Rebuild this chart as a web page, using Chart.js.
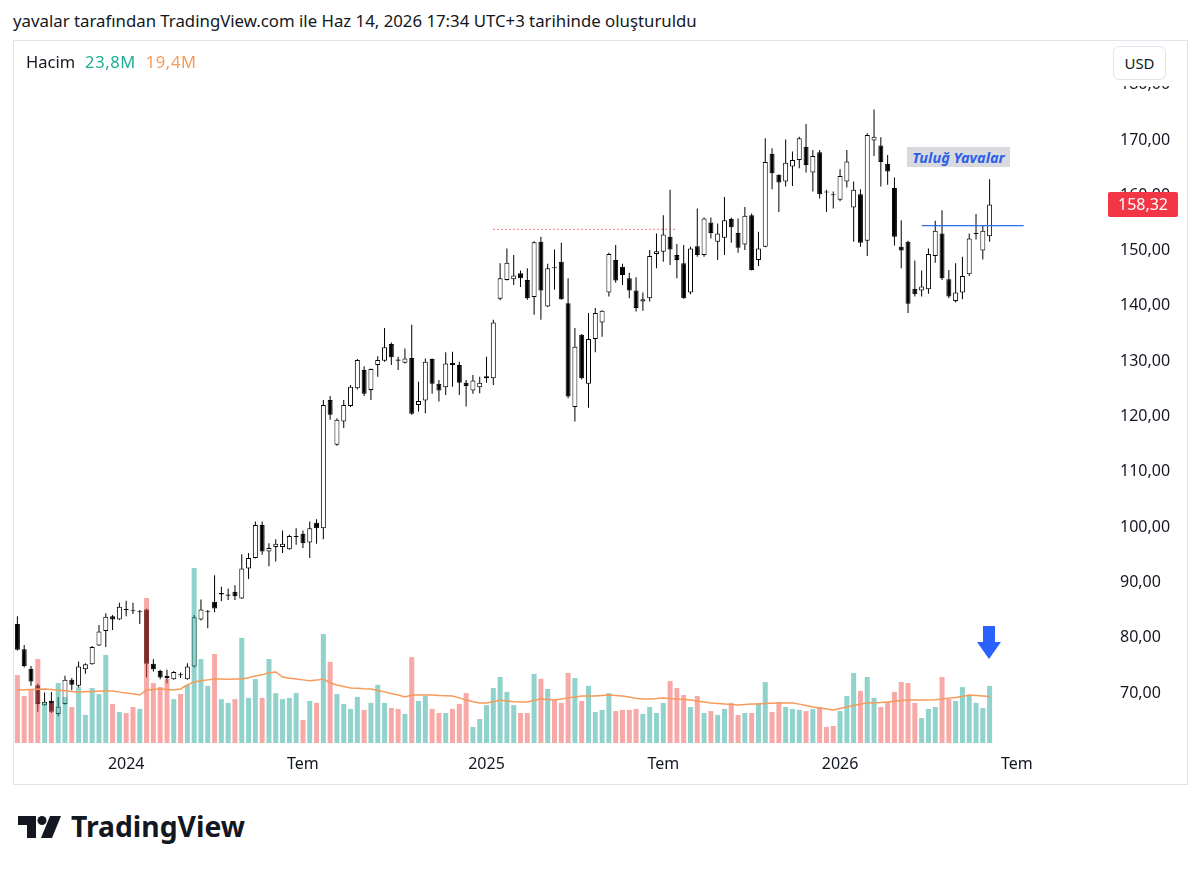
<!DOCTYPE html>
<html>
<head>
<meta charset="utf-8">
<script src="https://cdn.jsdelivr.net/npm/chart.js@4.4.1/dist/chart.umd.min.js"></script>
<style>
  body { margin: 0; width: 1200px; height: 871px; background: #fff; position: relative; overflow: hidden;
         font-family: "Noto Sans", sans-serif; color: #131722; }
  #title { position: absolute; left: 13px; top: 9px; font-size: 16.8px; white-space: nowrap; }
  #frame { position: absolute; left: 13px; top: 40px; width: 1173px; height: 743px; border: 1px solid #e0e3eb; }
  #c { position: absolute; left: 14px; top: 41px; }
  #legend { position: absolute; left: 26px; top: 50px; font-size: 16.5px; white-space: nowrap; }
  #legend .up { color: #22ab94; margin-left: 10px; letter-spacing: 0.6px; }
  #legend .ma { color: #f79a5a; margin-left: 10px; letter-spacing: 0.6px; }
  #mask { position: absolute; left: 1097px; top: 41px; width: 89px; height: 45px; background: #fff; }
  #usd { position: absolute; left: 1113px; top: 46px; width: 53px; height: 34px; border: 1px solid #e0e3eb;
         border-radius: 6px; box-sizing: border-box; font-size: 15px; line-height: 32px; text-align: center; background: #fff; }
  #note { position: absolute; left: 907px; top: 147px; width: 103px; height: 20px; background: #d9dadd;
          color: #2f5fe8; font-size: 14.5px; font-weight: bold; font-style: italic; line-height: 20px; text-align: center; }
  #arrow { position: absolute; left: 970px; top: 622px; }
  #logo { position: absolute; left: 0; top: 800px; }
</style>
</head>
<body>
<div id="title">yavalar tarafından TradingView.com ile Haz 14, 2026 17:34 UTC+3 tarihinde oluşturuldu</div>
<div id="frame"></div>
<canvas id="c" width="1172" height="742"></canvas>
<div id="legend">Hacim<span class="up">23,8M</span><span class="ma">19,4M</span></div>
<div id="mask"></div>
<div id="usd">USD</div>
<div id="note">Tuluğ Yavalar</div>
<svg id="arrow" width="40" height="42"><polygon points="13,4 25,4 25,20 31,20 19,37 7,20 13,20" fill="#2962ff"/></svg>
<svg id="logo" width="300" height="60">
  <path d="M18 16 H36 V38 H27 V25 H18 Z" fill="#131722"/>
  <circle cx="42" cy="20.5" r="4.5" fill="#131722"/>
  <path d="M50 16 H61 L52 38 H41 Z" fill="#131722"/>
  <text x="71" y="37" font-family="Noto Sans" font-weight="bold" font-size="28.3" fill="#131722">TradingView</text>
</svg>
<script>
// weekly candles, first week starts 2023-09-11
const startWeek = '2023-09-11';
const weekCount = 159; // includes empty future weeks on the right

const opens = [82.5,77.9,74.4,71.4,67.8,68.6,66.2,68.0,72.4,71.3,74.3,75.2,78.6,81.2,83.9,83.3,85.2,84.9,84.6,85.1,
  75.3,74.0,73.1,72.5,73.3,72.5,74.8,83.3,84.6,86.5,87.8,87.6,88.3,87.1,92.5,94.4,100.4,95.6,96.4,96.4,
  96.0,98.2,98.8,97.2,100.8,99.8,123.0,114.9,119.1,121.9,125.1,128.4,124.8,129.3,130.1,133.1,130.3,129.7,130.6,122.1,
  122.9,130.4,125.9,125.3,129.7,129.3,126.1,124.7,125.3,126.9,126.9,141.3,144.7,144.8,145.9,144.7,141.6,151.6,139.9,146.9,
  148.0,140.5,121.7,134.8,125.9,134.0,137.0,142.4,148.3,147.1,145.0,142.8,140.8,141.4,149.4,149.8,152.5,149.2,147.7,142.4,
  150.8,149.2,155.1,151.6,152.3,155.7,153.2,151.1,156.4,148.3,150.7,167.5,163.7,162.5,165.2,166.4,168.8,164.1,167.8,160.7,
  160.1,159.2,162.5,157.8,160.2,151.8,169.9,169.0,165.7,161.3,150.7,151.6,143.1,142.8,143.0,149.0,153.1,144.8,140.9,142.4,
  145.7,153.0,150.0,152.6];
const highs = [83.9,78.7,74.9,71.7,70.1,70.2,69.3,73.1,72.7,75.7,75.4,78.5,82.3,84.4,84.1,86.3,86.7,86.3,85.0,85.3,
  76.1,74.2,74.2,74.0,73.7,75.4,84.1,86.9,85.0,91.3,89.2,88.9,89.5,95.1,95.3,101.0,101.0,97.1,97.8,99.4,
  98.6,99.8,99.4,101.0,101.4,123.0,123.7,119.7,123.0,125.7,130.4,129.1,128.7,130.9,136.0,133.4,130.8,132.3,136.6,126.3,
  130.5,130.5,126.6,131.6,131.7,129.9,126.6,127.5,127.2,130.8,137.5,147.7,150.4,149.2,146.4,146.8,151.7,152.5,147.6,150.2,
  151.4,145.0,136.0,134.9,138.7,139.6,139.2,149.6,151.0,147.6,146.0,145.2,142.4,150.1,153.1,156.4,161.0,151.2,151.0,150.7,
  157.6,156.0,156.0,154.9,159.7,156.0,155.8,157.9,156.7,153.4,170.3,168.5,163.8,170.1,167.9,170.6,172.9,168.2,168.2,161.0,
  160.7,164.7,168.2,162.5,161.1,171.2,175.5,170.5,167.3,163.2,155.5,151.8,148.2,146.4,150.4,155.4,157.3,146.5,147.7,148.9,
  153.1,156.6,154.6,162.9];
const lows = [77.7,74.6,71.3,66.6,67.7,66.4,65.8,67.9,70.5,71.0,73.5,75.1,78.5,78.3,81.4,83.2,83.9,84.3,82.5,72.8,
  73.9,72.5,71.7,72.4,72.7,72.4,74.6,83.1,81.7,84.6,86.6,86.8,86.8,87.0,90.6,94.3,95.0,92.9,93.8,95.3,
  95.9,96.8,96.2,94.4,97.0,97.8,119.4,114.7,117.9,121.7,124.9,123.7,123.0,127.2,129.9,129.3,128.4,129.6,120.3,120.9,
  120.6,124.1,122.7,123.9,125.4,123.9,121.8,124.1,124.2,126.1,125.7,141.0,144.6,143.8,143.4,141.1,138.4,137.5,139.8,142.9,
  141.1,123.3,119.1,126.7,121.6,131.6,134.4,141.7,144.2,143.8,141.4,139.0,139.1,140.8,146.8,148.0,147.4,145.0,141.3,142.1,
  148.9,148.9,152.2,148.3,149.2,151.4,149.6,150.1,146.4,147.2,150.6,161.1,157.0,161.6,161.7,164.9,164.1,160.7,159.4,157.0,
  157.6,158.9,161.4,151.6,150.7,149.0,167.1,161.6,161.9,150.9,146.8,138.7,141.7,141.7,142.2,147.8,144.7,141.4,140.6,141.2,
  145.4,152.0,148.4,151.6];
const closes = [77.8,74.9,72.1,68.0,68.4,66.6,67.5,72.4,71.5,74.8,75.2,78.3,81.1,83.8,83.3,85.6,85.0,84.8,84.7,75.3,
  74.3,72.8,72.7,73.8,73.2,74.8,83.7,85.1,84.7,85.3,88.1,87.8,87.5,92.5,94.4,100.4,95.6,96.2,97.0,97.0,
  98.4,98.3,97.1,99.8,99.8,122.1,120.3,119.4,122.1,125.4,130.2,124.1,128.6,130.2,132.5,130.7,130.1,130.5,120.5,122.8,
  129.9,125.9,124.7,129.6,129.3,126.1,125.5,126.5,126.1,127.3,137.0,145.0,147.8,145.5,145.0,141.4,151.5,142.8,146.8,146.8,
  141.2,123.6,132.6,126.9,134.0,138.7,139.1,149.4,144.6,145.6,142.8,139.6,141.2,149.0,149.9,152.9,150.2,148.3,141.4,150.4,
  149.2,155.8,153.2,153.1,155.5,154.2,150.5,156.3,146.5,150.4,166.0,164.0,162.3,165.9,166.4,170.3,165.5,167.1,160.2,160.5,
  160.0,163.5,166.1,161.0,151.4,170.9,170.6,166.0,164.3,152.5,150.0,140.4,142.1,143.5,149.4,153.6,145.0,141.7,142.4,145.4,
  152.2,153.1,153.6,158.32];
// volume in millions
const volumes = [28.3,19.6,22.1,35.0,16.7,16.7,25.0,19.2,15.0,23.3,11.7,22.9,20.4,36.7,16.3,12.9,12.5,15.0,14.2,60.4,
  25.0,23.3,26.7,18.3,20.4,24.2,72.9,35.0,23.8,37.1,18.3,16.7,18.3,43.8,18.8,26.7,18.8,35.0,20.8,18.3,
  18.8,20.8,9.6,17.5,16.7,45.4,33.8,20.4,16.3,14.2,19.2,13.8,16.7,24.2,16.7,14.6,14.2,12.1,35.8,17.5,
  19.6,14.2,12.5,12.5,14.2,16.3,20.8,6.7,10.0,15.8,22.9,27.5,21.3,15.8,12.5,12.5,28.8,26.7,22.5,17.9,
  16.7,29.2,27.1,17.5,23.8,12.9,13.8,20.8,13.3,13.8,13.8,14.2,12.1,15.0,12.5,16.7,25.8,22.9,20.0,15.0,
  19.6,12.5,13.3,11.7,14.2,16.7,11.7,12.5,12.5,16.7,25.4,12.9,17.1,15.0,14.2,13.8,13.3,14.2,15.0,6.7,
  7.1,13.3,19.6,29.2,21.7,27.5,18.8,15.0,17.1,21.3,25.4,25.0,16.7,10.4,14.2,15.0,27.5,18.3,17.5,23.3,
  20.0,16.7,14.6,23.8];
// moving average of volume
const volumeMA = [22.1,22.2,22.3,22.4,22.5,22.3,22.0,21.8,21.5,21.3,21.4,21.5,21.6,21.7,21.7,21.2,20.8,20.5,20.0,22.1,
  22.3,22.5,22.3,22.1,22.5,24.2,25.4,25.9,26.3,26.7,26.7,26.6,26.7,26.7,27.2,27.9,28.4,29.3,29.6,27.5,
  27.0,26.7,26.3,25.9,26.2,26.7,25.0,24.2,23.5,22.9,22.8,22.6,22.5,21.9,21.3,20.6,20.0,19.2,20.0,20.0,
  20.0,20.0,19.8,19.7,19.6,18.8,17.9,17.2,16.7,16.7,17.2,17.9,17.5,17.2,17.1,17.1,17.8,18.3,18.1,17.9,
  18.3,18.8,19.2,19.6,19.6,19.6,19.8,20.0,19.8,19.6,19.2,18.6,18.3,18.3,18.5,18.8,18.5,18.3,18.1,17.9,
  17.5,17.1,16.7,16.5,16.3,16.0,15.8,16.0,16.2,16.3,16.5,16.6,16.7,16.7,16.7,16.2,15.6,15.0,14.6,14.2,
  13.8,14.4,15.0,15.6,16.2,16.7,16.8,16.9,17.1,17.4,17.7,17.9,17.9,17.9,17.9,18.0,18.3,18.7,19.0,19.4,
  20.0,19.8,19.6,19.4];

const tickWeeks = ['2024-01-01', '2024-07-01', '2025-01-06', '2025-07-07', '2026-01-05', '2026-07-06'];
const tickTexts = ['2024', 'Tem', '2025', 'Tem', '2026', 'Tem'];
const priceTicks = [70, 80, 90, 100, 110, 120, 130, 140, 150, 160, 170, 180];

// drawn horizontal levels: value, first week index, last week index
const redLevel = [153.85, 70, 97];
const blueLevel = [154.5, 133, 148];

const weeks = [];
const t0 = Date.parse(startWeek + 'T00:00:00Z');
for (let i = 0; i < weekCount; i++) {
  weeks.push(new Date(t0 + i * 7 * 864e5).toISOString().slice(0, 10));
}

const isUp = closes.map((c, i) => c >= opens[i]);
const levelData = (lv) => weeks.map((w, i) => (i >= lv[1] && i <= lv[2]) ? lv[0] : null);
const fmt = (v) => v.toFixed(2).replace('.', ',');
const FONT = '"Noto Sans", sans-serif';

const lastPrice = {
  id: 'lastPrice',
  afterDraw(chart) {
    const ctx = chart.ctx;
    const last = closes[closes.length - 1];
    const y = chart.scales.y.getPixelForValue(last);
    const x = chart.chartArea.right + 13;
    ctx.save();
    ctx.fillStyle = '#f23645';
    ctx.beginPath();
    ctx.roundRect(x, y - 12.5, 70, 25, 2);
    ctx.fill();
    ctx.fillStyle = '#fff';
    ctx.font = '16px ' + FONT;
    ctx.textAlign = 'center';
    ctx.textBaseline = 'middle';
    ctx.fillText(fmt(last), x + 35, y + 1);
    ctx.restore();
  }
};

new Chart(document.getElementById('c'), {
  type: 'bar',
  data: {
    labels: weeks,
    datasets: [
      {
        type: 'line', yAxisID: 'v', data: volumeMA, borderColor: '#f79a5a', borderWidth: 1.5,
        pointRadius: 0, tension: 0, order: 0
      },
      {
        type: 'line', yAxisID: 'y', data: levelData(redLevel), borderColor: 'rgba(242,54,69,0.9)',
        borderWidth: 1, borderDash: [1.5, 2.5], pointRadius: 0, order: 0
      },
      {
        type: 'line', yAxisID: 'y', data: levelData(blueLevel), borderColor: '#2f6ee8',
        borderWidth: 1.3, pointRadius: 0, order: 0
      },
      {
        yAxisID: 'v', data: volumes, grouped: false, barThickness: 5, inflateAmount: 0,
        backgroundColor: isUp.map(u => u ? 'rgba(38,166,154,0.5)' : 'rgba(239,83,80,0.5)'),
        order: 1
      },
      {
        yAxisID: 'y', data: opens.map((o, i) => [o, closes[i]]), grouped: false, barThickness: 5,
        backgroundColor: isUp.map(u => u ? '#ffffff' : '#000000'), borderColor: '#000000',
        borderWidth: 1, borderSkipped: false, minBarLength: 1, inflateAmount: 0, order: 2
      },
      {
        yAxisID: 'y', data: lows.map((l, i) => [l, highs[i]]), grouped: false, barThickness: 1,
        backgroundColor: '#000000', inflateAmount: 0, order: 3
      }
    ]
  },
  options: {
    responsive: false,
    animation: false,
    devicePixelRatio: 1,
    layout: { padding: 0 },
    plugins: { legend: { display: false }, tooltip: { enabled: false } },
    scales: {
      x: {
        offset: true,
        grid: { display: false, drawTicks: false },
        border: { display: false },
        ticks: {
          autoSkip: false, maxRotation: 0, padding: 12, color: '#131722',
          font: (ctx) => ({ family: FONT, size: 16,
            weight: /^\d{4}$/.test(tickTexts[tickWeeks.indexOf(weeks[ctx.index])] || '') ? 'bold' : 'normal' }),
          callback: function (value) {
            const k = tickWeeks.indexOf(weeks[value]);
            return k >= 0 ? tickTexts[k] : null;
          }
        },
        afterFit: (s) => { s.height = 40; s.paddingLeft = 0; s.paddingRight = 0; }
      },
      y: {
        position: 'right', min: 60.96, max: 187.9,
        grid: { display: false, drawTicks: false },
        border: { display: false },
        afterBuildTicks: (s) => { s.ticks = priceTicks.map(v => ({ value: v })); },
        ticks: {
          padding: 25, color: '#131722', font: { family: FONT, size: 16 },
          callback: (v) => fmt(v)
        },
        afterFit: (s) => { s.width = 91; s.paddingTop = 0; s.paddingBottom = 0; }
      },
      v: {
        display: false, min: 0, max: 292.5
      }
    }
  },
  plugins: [lastPrice]
});
</script>
</body>
</html>
